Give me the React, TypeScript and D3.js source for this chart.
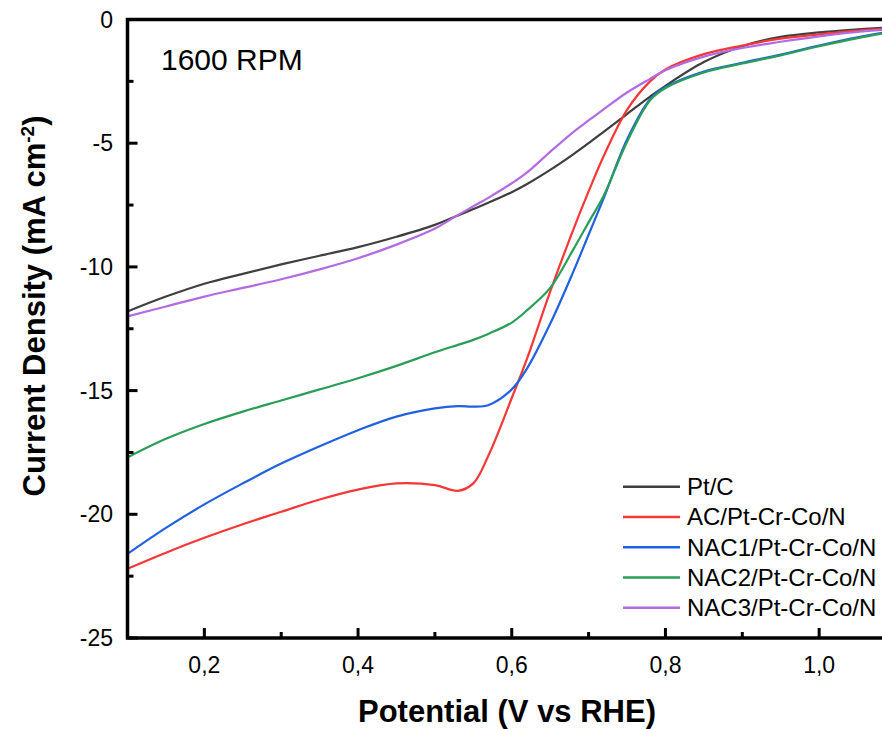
import React from 'react';
import * as d3 from 'd3';

const potential = [0.1, 0.15, 0.2, 0.25, 0.3, 0.35, 0.4, 0.45, 0.5, 0.53, 0.55, 0.57, 0.6, 0.62, 0.65, 0.68, 0.7, 0.72, 0.75, 0.78, 0.8, 0.85, 0.9, 0.95, 1.0, 1.05, 1.1];
const ptC = [-11.8, -11.2, -10.68, -10.28, -9.9, -9.55, -9.2, -8.78, -8.3, -7.92, -7.66, -7.4, -6.98, -6.65, -6.08, -5.45, -5.0, -4.53, -3.82, -3.12, -2.68, -1.72, -1.08, -0.7, -0.52, -0.4, -0.3];
const acPtCrCoN = [-22.2, -21.55, -20.95, -20.4, -19.9, -19.4, -19.0, -18.75, -18.82, -19.05, -18.75, -17.6, -15.3, -13.7, -11.0, -8.5, -6.95, -5.5, -3.65, -2.5, -2.02, -1.4, -1.05, -0.77, -0.6, -0.45, -0.35];
const nac1PtCrCoN = [-21.6, -20.55, -19.6, -18.75, -17.95, -17.25, -16.6, -16.05, -15.72, -15.63, -15.65, -15.58, -14.95, -14.1, -12.3, -10.2, -8.7, -7.2, -4.85, -3.22, -2.73, -2.1, -1.75, -1.42, -1.05, -0.72, -0.45];
const nac2PtCrCoN = [-17.7, -16.95, -16.35, -15.85, -15.4, -14.95, -14.5, -14.0, -13.45, -13.15, -12.95, -12.7, -12.25, -11.75, -10.85, -9.3, -8.2, -7.1, -4.95, -3.27, -2.77, -2.14, -1.78, -1.45, -1.08, -0.75, -0.47];
const nac3PtCrCoN = [-12.0, -11.6, -11.2, -10.85, -10.5, -10.1, -9.65, -9.1, -8.45, -7.9, -7.55, -7.2, -6.62, -6.18, -5.35, -4.55, -4.08, -3.62, -2.95, -2.4, -2.05, -1.5, -1.15, -0.9, -0.68, -0.5, -0.38];

const seriesNames = ['Pt/C', 'AC/Pt-Cr-Co/N', 'NAC1/Pt-Cr-Co/N', 'NAC2/Pt-Cr-Co/N', 'NAC3/Pt-Cr-Co/N'];
const seriesValues = [ptC, acPtCrCoN, nac1PtCrCoN, nac2PtCrCoN, nac3PtCrCoN];
const seriesColors = ['#3f3f3f', '#f73636', '#1f62e0', '#2a9e58', '#b26be2'];

const xMajorTicks = [0.2, 0.4, 0.6, 0.8, 1.0];
const xMinorTicks = [0.3, 0.5, 0.7, 0.9];
const yMajorTicks = [0, -5, -10, -15, -20, -25];
const yMinorTicks = [-2.5, -7.5, -12.5, -17.5, -22.5];

const W = 882;
const H = 729;
const left = 127.5;
const right = 896;
const top = 19.5;
const bottom = 638;
const font = 'Liberation Sans, Arial, sans-serif';

export default function App() {
  const x = d3.scaleLinear().domain([0.1, 1.1]).range([left, right]);
  const y = d3.scaleLinear().domain([-25, 0]).range([bottom, top]);
  const line = d3
    .line<number>()
    .x((_, i) => x(potential[i]))
    .y((d) => y(d))
    .curve(d3.curveCatmullRom.alpha(0.5));
  const fmt = (v: number) => v.toFixed(1).replace('.', ',');

  return (
    <svg width={W} height={H} style={{ position: 'absolute', left: 0, top: 0, background: '#fff' }} fontFamily={font}>
      <defs>
        <clipPath id="plotClip">
          <rect x={left} y={top} width={right - left} height={bottom - top} />
        </clipPath>
      </defs>
      <rect x={0} y={0} width={W} height={H} fill="#fff" />
      <g clipPath="url(#plotClip)">
        {seriesValues.map((vals, i) => (
          <path key={seriesNames[i]} d={line(vals) || ''} fill="none" stroke={seriesColors[i]} strokeWidth={2.2} />
        ))}
      </g>
      <rect x={left} y={top} width={right - left} height={bottom - top} fill="none" stroke="#000" strokeWidth={3.5} />
      {xMajorTicks.map((t) => (
        <g key={'xm' + t}>
          <line x1={x(t)} x2={x(t)} y1={bottom} y2={bottom - 10} stroke="#000" strokeWidth={3} />
          <text x={x(t)} y={673} textAnchor="middle" fontSize={23}>{fmt(t)}</text>
        </g>
      ))}
      {xMinorTicks.map((t) => (
        <line key={'xn' + t} x1={x(t)} x2={x(t)} y1={bottom} y2={bottom - 6} stroke="#000" strokeWidth={3} />
      ))}
      {yMajorTicks.map((t) => (
        <g key={'ym' + t}>
          <line x1={left} x2={left + 10} y1={y(t)} y2={y(t)} stroke="#000" strokeWidth={3} />
          <text x={113} y={y(t) + 8} textAnchor="end" fontSize={23}>{String(t)}</text>
        </g>
      ))}
      {yMinorTicks.map((t) => (
        <line key={'yn' + t} x1={left} x2={left + 6} y1={y(t)} y2={y(t)} stroke="#000" strokeWidth={3} />
      ))}
      <text x={507} y={722} textAnchor="middle" fontSize={31} fontWeight="bold">Potential (V vs RHE)</text>
      <text transform="translate(45,306) rotate(-90)" textAnchor="middle" fontSize={31} fontWeight="bold">
        Current Density (mA cm<tspan dy={-11} fontSize={19}>-2</tspan><tspan dy={11}>)</tspan>
      </text>
      <text x={161} y={70} fontSize={30}>1600 RPM</text>
      {seriesNames.map((name, i) => {
        const ly = 486.7 + i * 30.25;
        return (
          <g key={'lg' + name}>
            <line x1={623} x2={680} y1={ly} y2={ly} stroke={seriesColors[i]} strokeWidth={2.5} />
            <text x={687} y={ly + 8.5} fontSize={24}>{name}</text>
          </g>
        );
      })}
    </svg>
  );
}
